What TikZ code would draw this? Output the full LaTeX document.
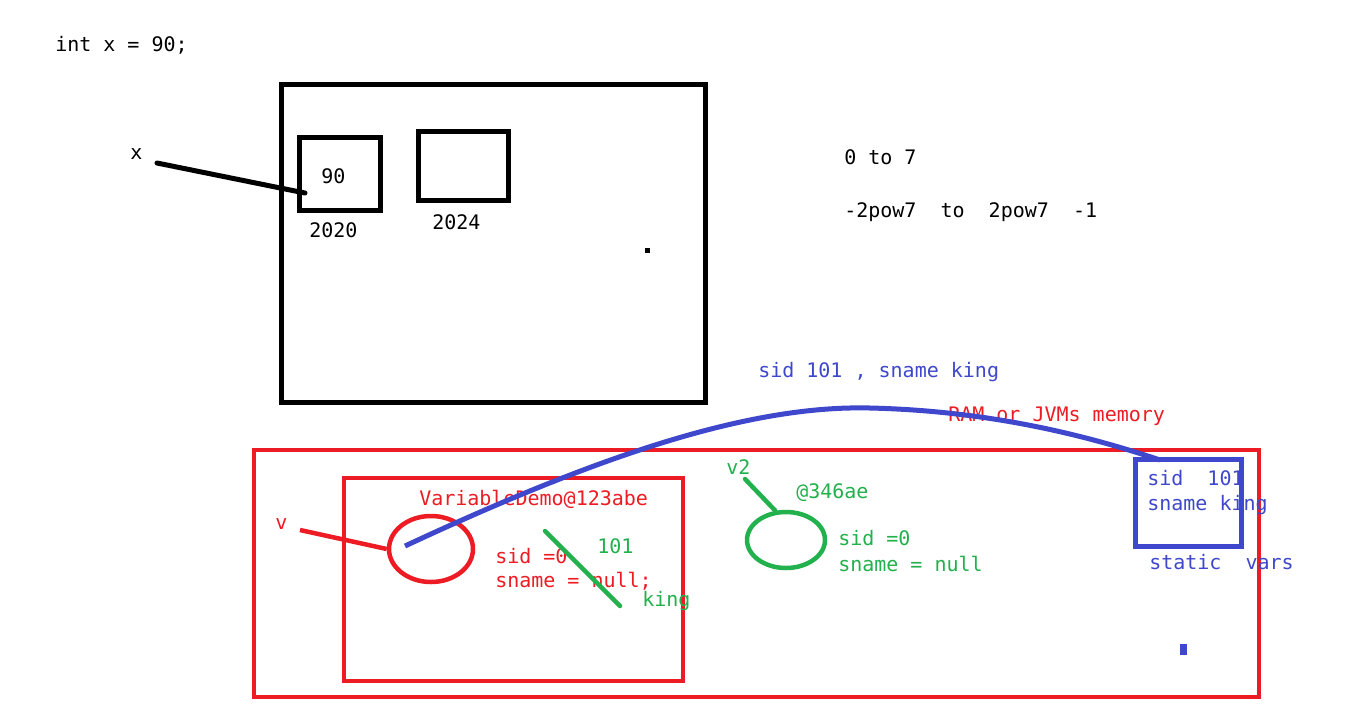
\documentclass[tikz,border=0pt]{standalone}
\usepackage{fontspec}
\setmonofont{DejaVu Sans Mono}
\usepackage{xcolor}
\usetikzlibrary{shapes.geometric}
\definecolor{paintred}{RGB}{237, 28, 36}
\definecolor{paintgreen}{RGB}{34, 177, 76}
\definecolor{paintblue}{RGB}{63, 72, 204}

\begin{document}
\begin{tikzpicture}[x=1pt,y=-1pt,line width=4.5pt,
        txt/.style={anchor=base west,inner sep=0pt,font=\ttfamily\fontsize{20}{24}\selectfont},
        cell/.style={draw,rectangle,inner sep=0pt},
        blob/.style={draw,ellipse,inner sep=0pt}]
        \useasboundingbox[fill=white] (0,0) rectangle (1355,716);

        % Declaration
        \node[txt] (decl) at (53,51) {int x = 90;};

        % Memory block
        \node[cell,line width=5pt,minimum width=424pt,minimum height=318pt] (mem) at (493,243) {};
        \node[cell,line width=5pt,minimum width=81pt,minimum height=73pt] (cellA) at (339.5,173.5) {};
        \node[cell,line width=5pt,minimum width=90pt,minimum height=69pt] (cellB) at (463,165.5) {};
        \node[txt] (val) at (319,183) {90};
        \node[txt] (addrA) at (307,237) {2020};
        \node[txt] (addrB) at (430,229) {2024};
        \fill (644.5,247.5) rectangle (649.5,252.5);

        % Variable x
        \node[txt] (xlbl) at (128,159) {x};
        \coordinate (xtail) at (157,163);
        \coordinate (xhead) at (305,193);
        \draw[line width=5pt,line cap=round] (xtail) -- (xhead);

        % Ranges
        \node[txt] (range) at (842,164) {0 to 7};
        \node[txt] (pow) at (842,217) {-2pow7\ \ to\ \ 2pow7\ \ -1};

        % Heap
        \node[cell,draw=paintred,minimum width=1005pt,minimum height=247pt] (ram) at (756.5,573.5) {};
        \node[cell,draw=paintred,minimum width=339pt,minimum height=203pt] (objA) at (513.5,579.5) {};
        \node[txt,text=paintred] (ramlbl) at (946,421) {RAM or JVMs memory};
        \node[txt,text=paintblue] (note) at (756,377) {sid 101 , sname king};

        % Object 1
        \node[txt,text=paintred] (clsA) at (417,505) {VariableDemo@123abe};
        \node[blob,draw=paintred,minimum width=84pt,minimum height=66pt] (refA) at (431,549) {};
        \node[txt,text=paintred] (vlbl) at (273,529) {v};
        \coordinate (vtail) at (300,530);
        \draw[paintred] (vtail) -- (refA.west);
        \node[txt,text=paintred] (sidA) at (493,563) {sid =0};
        \node[txt,text=paintred] (snameA) at (493,587) {sname = null;};
        \coordinate (cutA) at (545,531);
        \coordinate (cutB) at (620,606);
        \draw[paintgreen,line cap=round] (cutA) -- (cutB);
        \node[txt,text=paintgreen] (newsid) at (595,553) {101};
        \node[txt,text=paintgreen] (newname) at (640,606) {king};

        % Object 2
        \node[txt,text=paintgreen] (vtwo) at (724,474) {v2};
        \node[txt,text=paintgreen] (clsB) at (794,498) {@346ae};
        \node[blob,draw=paintgreen,minimum width=78pt,minimum height=56pt] (refB) at (786,540) {};
        \coordinate (vtwotail) at (745,479);
        \draw[paintgreen,line cap=round] (vtwotail) -- (refB.110);
        \node[txt,text=paintgreen] (sidB) at (836,545) {sid =0};
        \node[txt,text=paintgreen] (snameB) at (836,571) {sname = null};

        % Static vars
        \node[cell,draw=paintblue,line width=5pt,minimum width=106pt,minimum height=87pt] (statics) at (1188,502.5) {};
        \node[txt,text=paintblue] (ssid) at (1145,485) {sid\ \ 101};
        \node[txt,text=paintblue] (sname) at (1145,510) {sname king};
        \node[txt,text=paintblue] (slbl) at (1147,569) {static\ \ vars};
        \fill[paintblue] (1179.5,643.5) rectangle (1186.5,654.5);

        % Link to statics
        \coordinate (linkA) at (405,546);
        \coordinate (linkB) at (1160,460);
        \draw[paintblue,line width=5pt] (linkA) .. controls (600,455) and (750,405) .. (870,408)
            .. controls (1000,411) and (1100,440) .. (linkB);
    \end{tikzpicture}
\end{document}
